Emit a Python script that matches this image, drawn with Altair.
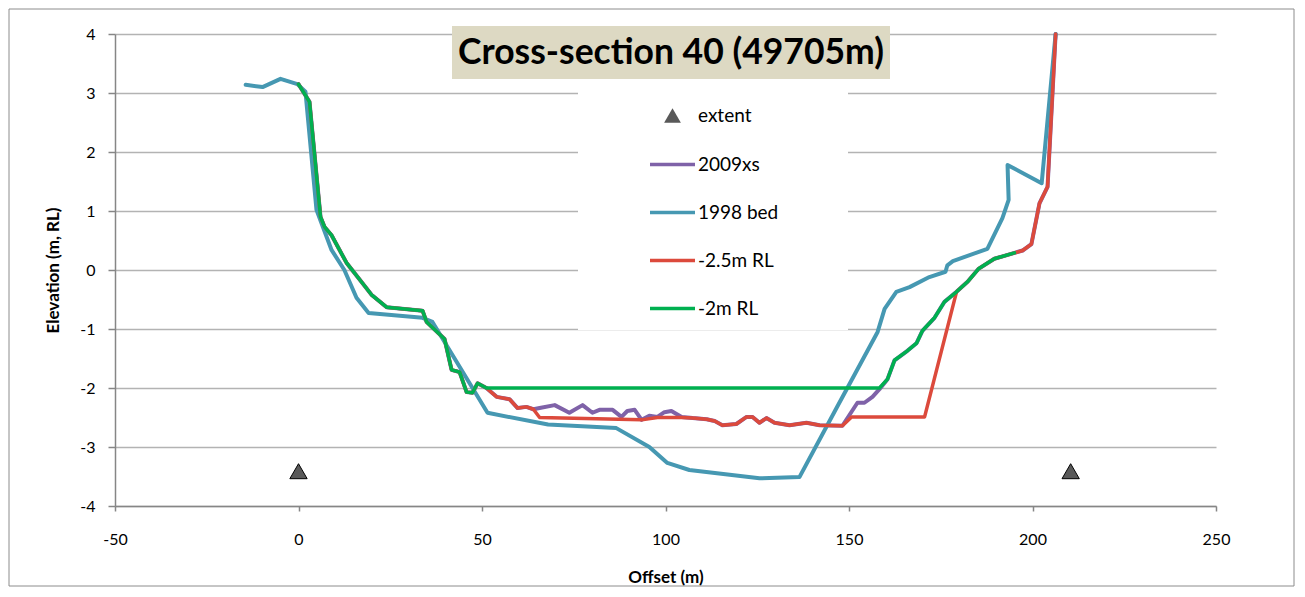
import altair as alt
import pandas as pd

FONT = "Lato"

# ---- data (offset m, elevation m RL) ----
xs2009_x = [0, 3.0, 6.0, 7.1, 9.0, 13.1, 17.4, 19.9, 24.0, 33.8, 34.9, 39.8, 41.7, 43.9, 45.8,
            47.4, 48.8, 51.2, 54.0, 57.5, 59.7, 62.1, 64.0, 65.7, 69.8, 73.8, 77.4, 80.1, 82.0,
            85.6, 88.0, 89.6, 91.6, 93.5, 95.6, 97.8, 99.7, 101.6, 104.4, 107.4, 111.2, 113.4,
            115.5, 119.3, 122.1, 123.7, 125.6, 127.5, 129.7, 133.8, 138.4, 142.0, 148.2, 152.3,
            154.2, 156.4, 158.3, 160.5, 162.4, 165.9, 168.4, 170.0, 173.3, 176.0, 179.3, 182.3,
            185.3, 189.6, 195.1, 197.3, 199.7, 201.9, 204.1, 206.3]
xs2009_y = [3.15, 2.85, 0.90, 0.73, 0.59, 0.12, -0.22, -0.42, -0.63, -0.69, -0.88, -1.17, -1.69,
            -1.73, -2.07, -2.08, -1.92, -2.00, -2.15, -2.19, -2.34, -2.32, -2.36, -2.34, -2.29,
            -2.42, -2.29, -2.42, -2.37, -2.37, -2.49, -2.39, -2.37, -2.54, -2.47, -2.49, -2.41,
            -2.39, -2.49, -2.51, -2.53, -2.56, -2.63, -2.61, -2.49, -2.49, -2.59, -2.51, -2.59,
            -2.63, -2.59, -2.63, -2.64, -2.25, -2.25, -2.15, -2.02, -1.85, -1.53, -1.37, -1.24,
            -1.03, -0.81, -0.54, -0.37, -0.20, 0.02, 0.19, 0.29, 0.33, 0.44, 1.13, 1.41, 4.0]

bed1998_x = [-14.4, -9.8, -4.9, -0.3, 1.9, 4.9, 9.0, 12.5, 15.8, 19.1, 33.8, 36.5, 51.5, 68.0,
             86.6, 95.6, 100.5, 106.5, 125.6, 136.5, 146.6, 157.8, 159.7, 162.9, 166.5, 171.9,
             176.3, 176.8, 178.3, 187.7, 191.8, 193.5, 193.2, 202.5, 206.3]
bed1998_y = [3.14, 3.10, 3.24, 3.15, 3.02, 1.02, 0.34, 0.00, -0.47, -0.73, -0.81, -0.88, -2.42,
             -2.62, -2.68, -3.00, -3.27, -3.39, -3.53, -3.51, -2.34, -1.05, -0.66, -0.37, -0.29,
             -0.12, -0.03, 0.08, 0.15, 0.36, 0.88, 1.19, 1.78, 1.47, 4.0]

rl25_x = [0, 3.0, 6.0, 7.1, 9.0, 13.1, 17.4, 19.9, 24.0, 33.8, 34.9, 39.8, 41.7, 43.9, 45.8,
          47.4, 48.8, 51.2, 54.0, 57.5, 59.7, 62.1, 64.0, 65.7, 93.5, 97.8, 104.4, 107.4, 111.2,
          113.4, 115.5, 119.3, 122.1, 123.7, 125.6, 127.5, 129.7, 133.8, 138.4, 142.0, 148.2,
          150.7, 170.6, 179.3, 182.3, 185.3, 189.6, 195.1, 197.3, 199.7, 201.9, 204.1, 206.3]
rl25_y = [3.15, 2.85, 0.90, 0.73, 0.59, 0.12, -0.22, -0.42, -0.63, -0.69, -0.88, -1.17, -1.69,
          -1.73, -2.07, -2.08, -1.92, -2.00, -2.15, -2.19, -2.34, -2.32, -2.36, -2.50, -2.54,
          -2.50, -2.50, -2.51, -2.53, -2.56, -2.63, -2.61, -2.49, -2.49, -2.59, -2.51, -2.59,
          -2.63, -2.59, -2.63, -2.64, -2.49, -2.49, -0.37, -0.20, 0.02, 0.19, 0.29, 0.33, 0.44,
          1.13, 1.41, 4.0]

rl2_x = [0, 3.0, 6.0, 7.1, 9.0, 13.1, 17.4, 19.9, 24.0, 33.8, 34.9, 39.8, 41.7, 43.9, 45.8,
         47.4, 48.8, 51.2, 158.3, 160.5, 162.4, 165.9, 168.4, 170.0, 173.3, 176.0, 179.3, 182.3,
         185.3, 189.6, 195.1]
rl2_y = [3.15, 2.85, 0.90, 0.73, 0.59, 0.12, -0.22, -0.42, -0.63, -0.69, -0.88, -1.17, -1.69,
         -1.73, -2.07, -2.08, -1.92, -2.00, -2.00, -1.85, -1.53, -1.37, -1.24, -1.03, -0.81,
         -0.54, -0.37, -0.20, 0.02, 0.19, 0.29]

extent_x = [0, 210.4]
extent_y = [-3.41, -3.41]

series_names = ["2009xs", "1998 bed", "-2.5m RL", "-2m RL"]
series_colors = ["#7f62a8", "#4698b2", "#dc4a3c", "#00b050"]
series_widths = [4.0, 4.0, 3.5, 3.5]

rows = []
for name, xs, ys in zip(series_names,
                        [xs2009_x, bed1998_x, rl25_x, rl2_x],
                        [xs2009_y, bed1998_y, rl25_y, rl2_y]):
    for i, (x, y) in enumerate(zip(xs, ys)):
        rows.append({"series": name, "i": i, "offset": x, "elev": y})
lines_df = pd.DataFrame(rows)
extent_df = pd.DataFrame({"name": ["extent"] * len(extent_x), "offset": extent_x, "elev": extent_y})

W, H = 1101, 472

x_scale = alt.Scale(domain=[-50, 250], nice=False)
y_scale = alt.Scale(domain=[-4, 4], nice=False)

x_enc = alt.X("offset:Q", scale=x_scale,
              axis=alt.Axis(title="Offset (m)", values=[-50, 0, 50, 100, 150, 200, 250],
                            labelExpr="toString(datum.value)", labelFlush=False,
                            grid=False, tickSize=5, labelPadding=20, titlePadding=22))
y_enc = alt.Y("elev:Q", scale=y_scale,
              axis=alt.Axis(title="Elevation  (m, RL)", values=list(range(-4, 5)),
                            labelExpr="toString(datum.value)", labelFlush=False,
                            grid=True, tickSize=7, labelPadding=13, titlePadding=17))

color_scale = alt.Scale(domain=series_names, range=series_colors)

one = pd.DataFrame({"a": [0]})

frame = alt.Chart(one).mark_rect(fill="white", fillOpacity=0, stroke="#8c8c8c",
                                 strokeWidth=1).encode(
    x=alt.value(-106), x2=alt.value(W + 78), y=alt.value(-25), y2=alt.value(H + 80))

legend_bg = alt.Chart(one).mark_rect(fill="white").encode(
    x=alt.value(463), x2=alt.value(733), y=alt.value(51), y2=alt.value(296))

line_layers = []
for k, name in enumerate(series_names):
    leg = None
    if k == 0:
        leg = alt.Legend(title=None, orient="none", legendX=533, legendY=106,
                         symbolType="stroke", symbolSize=2025, symbolStrokeWidth=3.5,
                         labelFont=FONT, labelFontSize=19, labelColor="black",
                         labelOffset=1, rowPadding=13, padding=0)
    line_layers.append(
        alt.Chart(lines_df).transform_filter(alt.datum.series == name)
        .mark_line(strokeWidth=series_widths[k], strokeJoin="round", strokeCap="round")
        .encode(x=x_enc, y=y_enc,
                color=alt.Color("series:N", scale=color_scale, legend=leg),
                order=alt.Order("i:Q"))
    )

extent = alt.Chart(extent_df).mark_point(filled=True, fill="#595959", stroke="black",
                                         strokeWidth=1, size=300, opacity=1).encode(
    x=x_enc, y=y_enc,
    shape=alt.Shape("name:N", scale=alt.Scale(domain=["extent"], range=["triangle-up"]),
                    legend=alt.Legend(title=None, orient="none", legendX=548, legendY=72,
                                      symbolFillColor="#595959", symbolStrokeColor="black",
                                      symbolStrokeWidth=1, symbolSize=280,
                                      labelFont=FONT, labelFontSize=19, labelColor="black",
                                      labelOffset=16, padding=0)))

title_box = alt.Chart(one).mark_rect(fill="#ddd9c3").encode(
    x=alt.value(337), x2=alt.value(775), y=alt.value(-8), y2=alt.value(45))
title_text = alt.Chart(one).mark_text(text="Cross-section 40 (49705m)", font=FONT,
                                      fontSize=35.5, fontWeight="bold", color="black",
                                      align="center", baseline="middle").encode(
    x=alt.value(556), y=alt.value(19))

chart = alt.layer(frame, legend_bg, *line_layers, extent, title_box, title_text).properties(
    width=W, height=H,
    autosize=alt.AutoSizeParams(type="none"),
    padding={"left": 107, "top": 26, "right": 80, "bottom": 82},
).configure_view(stroke=None).configure_axis(
    labelFont=FONT, labelFontSize=16, labelColor="black",
    titleFont=FONT, titleFontSize=17, titleFontWeight="bold", titleColor="black",
    domainColor="#868686", domainWidth=1.5, tickColor="#868686", tickWidth=1.5,
    gridColor="#b3b3b3", gridWidth=1.5,
).resolve_legend(color="independent", shape="independent")

chart.save("out.html", embed_options={"renderer": "svg", "actions": False})
